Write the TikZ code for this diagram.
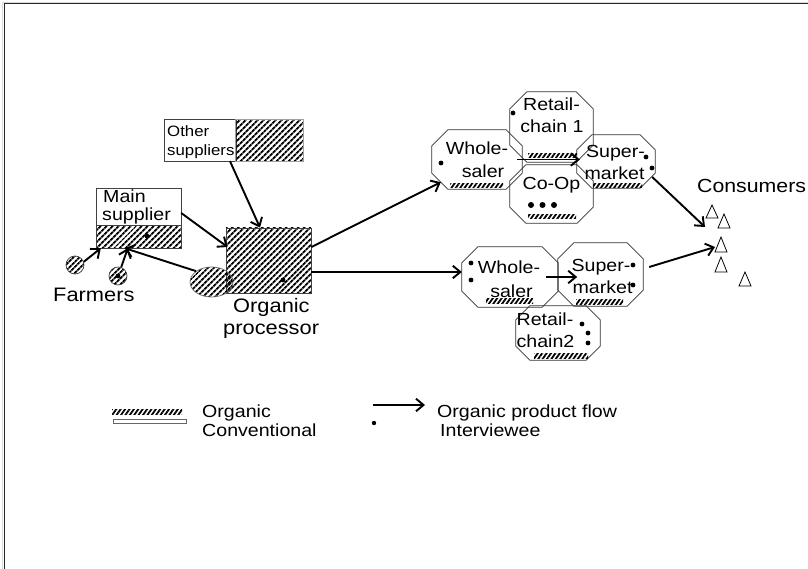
\documentclass[tikz,border=0pt]{standalone}
\usepackage{fontspec}
\setmainfont{Liberation Sans}[FakeStretch=1.12]
\usetikzlibrary{arrows.meta,patterns.meta,calc,shapes.geometric}
\definecolor{ygreen}{HTML}{99BB33}
\newcommand{\fbig}{\fontsize{19.5}{22}\selectfont}
\newcommand{\fcon}{\fontsize{19}{22}\selectfont}
\newcommand{\fmid}{\fontsize{17.5}{20}\selectfont}
\newcommand{\fsml}{\fontsize{15}{18}\selectfont}
\newcommand{\octdraw}[2]{\draw[octline] ([xshift=#2pt]#1.north west) -- ([xshift=-#2pt]#1.north east) -- ([yshift=-#2pt]#1.north east) -- ([yshift=#2pt]#1.south east) -- ([xshift=-#2pt]#1.south east) -- ([xshift=#2pt]#1.south west) -- ([yshift=#2pt]#1.south west) -- ([yshift=-#2pt]#1.north west) -- cycle;}
\tikzset{
  hatch/.style={pattern={Lines[angle=45,distance=4pt,line width=2pt]}},
  bar/.style={pattern={Lines[angle=55,distance=3.6pt,line width=1.8pt]}},
  thinbox/.style={draw=black!75,line width=0.8pt},
  octline/.style={draw=black!80,line width=0.8pt},
  area/.style={rectangle,draw=none,inner sep=0pt},
  flow/.style={line width=1.9pt,-{Straight Barb[length=7.5pt,width=12.5pt,line width=1.9pt]}},
  lb/.style={anchor=base,inner sep=0pt,font=\fmid},
  lbw/.style={anchor=base west,inner sep=0pt,font=\fmid},
  tri/.style={draw=black,line width=0.8pt,fill=white},
}
\begin{document}
\begin{tikzpicture}[x=1pt,y=-1pt]
\useasboundingbox (0,0) rectangle (808,569);
\fill[white] (0,0) rectangle (808,569);
% frame
\draw[black!15,line width=1pt] (2.6,569) -- (2.6,2.2) -- (808,2.2);
\draw[black!85,line width=1.2pt] (4.2,569) -- (4.2,3.6) -- (808,3.6);

% Other suppliers
\node[area,minimum width=138pt,minimum height=41pt] (os) at (234,140.5) {};
\draw[thinbox] (os.north west) rectangle ([xshift=-67pt]os.south east);
\draw[hatch,draw=ygreen,line width=0.9pt] ([xshift=71pt]os.north west) rectangle (os.south east);
\node[lbw,font=\fsml] (osa) at (167,137) {Other};
\node[lbw,font=\fsml] (osb) at (167,156) {suppliers};

% Main supplier
\node[area,minimum width=84pt,minimum height=59pt] (ms) at (139,218.5) {};
\draw[thinbox,fill=white] (ms.north west) rectangle (ms.south east);
\draw[thinbox,hatch] ([yshift=23pt]ms.south west) rectangle (ms.south east);
\node[lbw] (msa) at (103,203) {Main};
\node[lbw] (msb) at (102,221) {supplier};
\fill (147,236) circle (2.4);

% Farmers
\node[circle,draw=black!75,line width=0.7pt,hatch,minimum size=18pt,inner sep=0pt] (f1) at (75,265) {};
\node[circle,draw=black!75,line width=0.7pt,hatch,minimum size=18pt,inner sep=0pt] (f2) at (118,276) {};
\fill (118,276) circle (2.4);
\node[lbw,font=\fbig] (fa) at (53,301) {Farmers};

% Organic processor
\node[area,thinbox,hatch,minimum width=85pt,minimum height=65pt] (op) at (268.5,260.5) {};
\node[ellipse,draw=black!60,line width=0.7pt,hatch,minimum width=43pt,minimum height=30pt,inner sep=0pt] (el) at (211.5,282) {};
\fill (283,280) circle (2.4);
\node[lbw,font=\fbig] (opa) at (233,312) {Organic};
\node[lbw,font=\fbig] (opb) at (223,334) {processor};

% upper chain
\node[area,minimum width=83pt,minimum height=70pt] (R1) at (551.5,127) {};
\node[area,minimum width=83pt,minimum height=58pt] (C1) at (551.5,194) {};
\node[area,minimum width=90pt,minimum height=59pt] (W1) at (477,159.5) {};
\node[area,minimum width=78pt,minimum height=53pt] (S1) at (616,161.5) {};
\octdraw{R1}{17}
\octdraw{C1}{16}
\octdraw{W1}{16}
\octdraw{S1}{15}
\node[lb] (W1a) at (477,155) {Whole-};
\node[lb] (W1b) at (483,178) {saler};
\node[lb] (R1a) at (551.5,111) {Retail-};
\node[lb] (R1b) at (552,133) {chain 1};
\node[lb] (C1a) at (551.5,190) {Co-Op};
\node[lb] (S1a) at (615.5,158) {Super-};
\node[lb] (S1b) at (614.5,180) {market};
\path[bar] (450,183.5) rectangle (503,188);
\path[bar] (528,153.5) rectangle (577,158);
\path[bar] (528,214.5) rectangle (576,219);
\path[bar] (593,183.5) rectangle (642,188);
\fill (441,163) circle (2.4);
\fill (513,113) circle (2.4);
\fill (646,157) circle (2.4);
\fill (652,168) circle (2.4);
\fill (531,205) circle (3);
\fill (542.5,205) circle (3);
\fill (554,205) circle (3);

% lower chain
\node[area,minimum width=96pt,minimum height=60pt] (W2) at (510,277) {};
\node[area,minimum width=85pt,minimum height=63pt] (S2) at (600.5,274.5) {};
\node[area,minimum width=84pt,minimum height=54pt] (R2) at (558,333) {};
\octdraw{W2}{16}
\octdraw{S2}{16}
\octdraw{R2}{14}
\node[lb] (W2a) at (509,273) {Whole-};
\node[lb] (W2b) at (511.5,297) {saler};
\node[lb] (S2a) at (601,272) {Super-};
\node[lb] (S2b) at (602.5,293) {market};
\node[lb] (R2a) at (545,325) {Retail-};
\node[lb] (R2b) at (545.5,347) {chain2};
\path[bar] (486,298.5) rectangle (533,303);
\path[bar] (576,299.5) rectangle (623,304);
\path[bar] (534,353.5) rectangle (588,358);
\fill (471,263) circle (2.4);
\fill (471,280) circle (2.4);
\fill (633,265) circle (2.4);
\fill (633,285) circle (2.4);
\fill (582,324) circle (2.4);
\fill (588,333) circle (2.4);
\fill (588,343) circle (2.4);

% consumers
\node[lbw,font=\fcon] (cons) at (697,193) {Consumers};
\coordinate (cin1) at (705,227);
\coordinate (cin2) at (715,247);
\draw[tri] (712,205) -- (718,218) -- (706,218) -- cycle;
\draw[tri] (724,214) -- (730,228) -- (718,228) -- cycle;
\draw[tri] (721,237) -- (727,252) -- (715,252) -- cycle;
\draw[tri] (721,257) -- (727,272) -- (715,272) -- cycle;
\draw[tri] (745,272) -- (751,286) -- (739,286) -- cycle;

% flows
\draw[flow] (f1.20) -- ([xshift=4pt]ms.south west);
\draw[flow] (f2.70) -- ([xshift=31pt]ms.south west);
\draw[flow] (el.north west) -- ([xshift=28pt]ms.south west);
\draw[flow] ([yshift=5.5pt]ms.east) -- ([xshift=2pt,yshift=13.5pt]op.west);
\draw[flow] ([xshift=-4pt]os.south) -- ([xshift=-8.5pt]op.north);
\draw[flow] ([yshift=13.5pt]op.east) -- ([xshift=9pt,yshift=7pt]W1.south west);
\draw[flow] ([yshift=-11.5pt]op.east) -- ([yshift=-11.5pt]op.east -| W2.west);
\draw[flow] ([xshift=-5pt]W1.east) -- ($(W1.east -| S1.west)+(3,0)$);
\draw[flow] ([xshift=-12pt]W2.east) -- ($(W2.east)+(19,0)$);
\draw[flow] ([xshift=-3pt,yshift=-15.5pt]S1.east) -- (cin1);
\draw[flow] ([xshift=6pt,yshift=7.5pt]S2.east) -- (cin2);

% legend
\path[bar] (112,409.5) rectangle (182,414);
\draw[draw=black!60,line width=0.7pt,fill=white] (113,419) rectangle (186,423);
\node[lbw,text depth=0pt] (lg1) at (202,417.5) {Organic};
\node[lbw] (lg2) at (202,436) {Conventional};
\coordinate (la1) at (373,405);
\coordinate (la2) at (425,405);
\draw[flow] (la1) -- (la2);
\fill (374,423) circle (2.2);
\node[lbw,text depth=0pt] (lg3) at (437,417.5) {Organic product flow};
\node[lbw] (lg4) at (440,436) {Interviewee};
\end{tikzpicture}
\end{document}
